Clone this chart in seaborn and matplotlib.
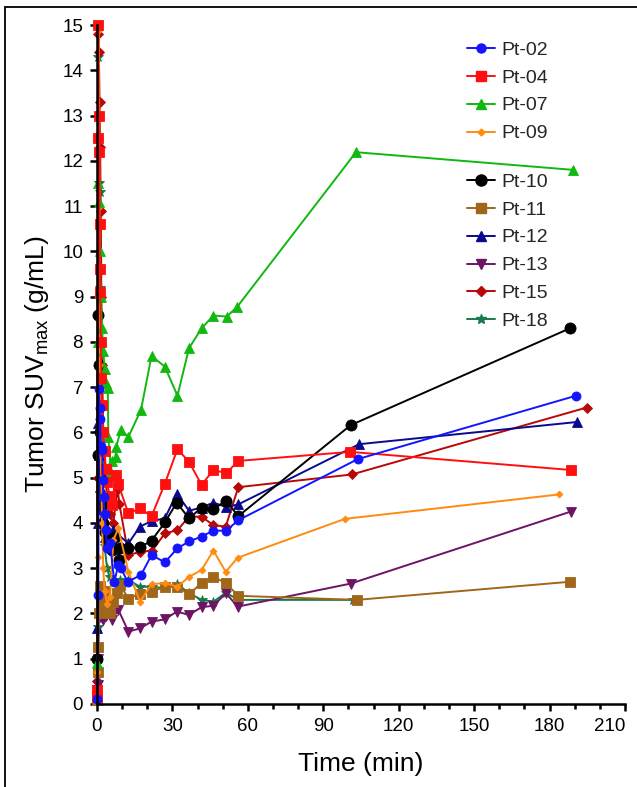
import matplotlib
matplotlib.use("Agg")
import matplotlib.pyplot as plt
from matplotlib.lines import Line2D
from matplotlib.patches import Rectangle
from matplotlib.ticker import MultipleLocator
import seaborn as sns
import pandas as pd

# tumor SUVmax per patient (time in min)
pt02_t = [0, 0.5, 0.8, 1.0, 1.2, 1.5, 2.1, 2.3, 2.6, 3.0, 3.5, 4.0, 5.2, 6.9, 8.4, 9.5, 12.2, 17.5, 21.7, 27, 32, 36.6, 41.6, 46.3, 51.4, 56.2, 103.7, 190.5]
pt02_y = [0.1, 2.41, 6.95, 6.53, 6.30, 5.71, 5.61, 4.95, 4.58, 4.2, 3.84, 3.45, 3.55, 2.69, 3.07, 3.0, 2.70, 2.85, 3.29, 3.13, 3.44, 3.59, 3.70, 3.83, 3.83, 4.06, 5.41, 6.81]

pt04_t = [0, 0.17, 0.33, 0.5, 0.67, 0.83, 1.0, 1.17, 1.33, 1.5, 1.75, 2.0, 2.5, 3.0, 3.5, 4.0, 5.0, 6.0, 7.5, 8.5, 12.5, 17.1, 21.7, 27, 32, 36.6, 41.6, 46.3, 51.4, 56.2, 100.7, 188.4]
pt04_y = [0.15, 0.3, 12.5, 15.0, 13.0, 12.2, 10.6, 9.6, 9.1, 8.0, 7.2, 6.6, 6.0, 5.6, 5.2, 4.9, 4.6, 4.4, 5.06, 4.85, 4.21, 4.32, 4.15, 4.87, 5.63, 5.35, 4.84, 5.17, 5.10, 5.37, 5.57, 5.17]

pt07_t = [0, 0.25, 0.5, 0.75, 1.0, 1.5, 2.0, 2.5, 3.0, 3.5, 4.3, 4.5, 5.6, 5.8, 7.4, 7.6, 9.5, 12.5, 17.5, 21.7, 27, 32, 36.6, 41.6, 46.3, 51.6, 55.7, 103, 189.3]
pt07_y = [0.9, 8.0, 11.5, 11.1, 10.0, 9.0, 8.3, 7.8, 7.4, 7.1, 6.99, 5.9, 5.1, 5.37, 5.46, 5.68, 6.05, 5.9, 6.5, 7.69, 7.45, 6.81, 7.86, 8.3, 8.58, 8.56, 8.77, 12.19, 11.8]

pt09_t = [0, 0.25, 0.5, 0.75, 1.0, 1.25, 1.5, 2.0, 2.5, 3.0, 4.0, 5.2, 6.5, 8.5, 12.5, 17.1, 21.7, 27, 32, 36.6, 41.6, 46.3, 51.2, 55.9, 98.6, 183.9]
pt09_y = [0.7, 3.24, 9.0, 14.9, 11.0, 7.5, 5.5, 4.0, 3.0, 2.5, 2.22, 2.37, 3.62, 3.88, 2.92, 2.26, 2.65, 2.67, 2.59, 2.81, 2.96, 3.39, 2.92, 3.23, 4.09, 4.63]

pt10_t = [0, 0.25, 0.5, 0.75, 1.0, 1.5, 2.0, 2.5, 3.0, 4.0, 5.0, 6.0, 7.0, 8.8, 9.2, 12.5, 17.1, 21.7, 27, 31.7, 36.6, 41.6, 46.3, 51.2, 56.2, 100.9, 188.1]
pt10_y = [1.0, 5.5, 8.6, 7.5, 6.0, 5.0, 4.4, 4.0, 3.8, 3.6, 3.5, 3.4, 3.7, 3.18, 3.44, 3.45, 3.46, 3.61, 4.01, 4.45, 4.10, 4.34, 4.30, 4.49, 4.15, 6.16, 8.30]

pt11_t = [0, 0.25, 0.5, 0.75, 1.0, 1.5, 2.0, 2.5, 3.0, 4.0, 5.0, 6.5, 7.8, 9.2, 12.5, 17.1, 21.7, 27, 32, 36.6, 41.6, 46.3, 51.2, 56.2, 103.3, 188.1]
pt11_y = [0.09, 0.71, 1.27, 2.0, 2.6, 2.3, 2.0, 2.1, 2.5, 2.3, 2.0, 2.26, 2.45, 2.63, 2.33, 2.43, 2.48, 2.59, 2.58, 2.43, 2.67, 2.81, 2.67, 2.39, 2.30, 2.70]

pt12_t = [0, 0.25, 0.5, 0.75, 1.0, 1.5, 2.0, 3.0, 4.0, 6.2, 12.5, 17.1, 21.7, 27, 31.7, 36.6, 41.6, 46.3, 51.4, 56.2, 104.3, 191]
pt12_y = [1.68, 4.0, 6.2, 5.5, 4.8, 4.3, 4.0, 3.7, 3.6, 3.84, 3.55, 3.92, 4.04, 4.1, 4.65, 4.27, 4.34, 4.45, 4.35, 4.41, 5.74, 6.23]

pt13_t = [0, 0.25, 0.5, 0.75, 1.0, 1.5, 2.0, 2.5, 3.5, 5.8, 8.5, 12.5, 17.1, 21.7, 27, 31.7, 36.6, 41.6, 46.3, 51.3, 55.9, 100.9, 188.4]
pt13_y = [0.3, 0.43, 1.0, 1.9, 2.3, 2.1, 1.9, 1.86, 1.95, 1.86, 2.08, 1.60, 1.67, 1.82, 1.87, 2.04, 1.97, 2.14, 2.17, 2.45, 2.15, 2.66, 4.25]

pt15_t = [0, 0.25, 0.5, 0.75, 1.0, 1.25, 1.5, 1.75, 2.0, 2.5, 3.0, 4.0, 5.0, 6.5, 8.2, 8.9, 12.5, 17.1, 22, 27, 32, 36.6, 41.6, 46.3, 51.2, 56.2, 101.3, 194.8]
pt15_y = [0.5, 5.0, 14.8, 14.4, 13.3, 12.3, 10.9, 9.0, 7.5, 6.0, 5.2, 4.6, 4.2, 4.0, 4.76, 4.42, 3.29, 3.36, 3.39, 3.77, 3.84, 4.14, 4.14, 3.95, 3.92, 4.79, 5.07, 6.55]

pt18_t = [0, 0.25, 0.5, 0.75, 1.0, 1.25, 1.5, 2.0, 2.5, 3.0, 4.0, 5.0, 9.2, 12.5, 17.1, 21.7, 27, 31.7, 36.6, 41.6, 46.3, 51.3, 56.2, 102]
pt18_y = [1.0, 1.7, 14.3, 11.5, 11.3, 9.2, 7.5, 5.5, 4.2, 3.5, 3.0, 2.8, 2.74, 2.74, 2.59, 2.59, 2.56, 2.66, 2.45, 2.30, 2.26, 2.46, 2.30, 2.30]

patients = ["Pt-02", "Pt-04", "Pt-07", "Pt-09", "Pt-10", "Pt-11", "Pt-12", "Pt-13", "Pt-15", "Pt-18"]
times = [pt02_t, pt04_t, pt07_t, pt09_t, pt10_t, pt11_t, pt12_t, pt13_t, pt15_t, pt18_t]
values = [pt02_y, pt04_y, pt07_y, pt09_y, pt10_y, pt11_y, pt12_y, pt13_y, pt15_y, pt18_y]
x_ticks = [0, 30, 60, 90, 120, 150, 180, 210]

colors = ["#1414ff", "#ff1010", "#10b810", "#ff8c10", "#000000",
          "#a0661a", "#0a0a8c", "#6e1464", "#b80808", "#157a4c"]
markers = ["o", "s", "^", "D", "o", "s", "^", "v", "D", "*"]
msizes = [6.5, 7, 6.5, 3.5, 8, 7.5, 7, 7, 5.5, 7]

df = pd.concat([pd.DataFrame({"patient": p, "time": t, "suv": v})
                for p, t, v in zip(patients, times, values)])

sns.set_theme(style="ticks")
plt.rcParams["font.family"] = ["Liberation Sans", "DejaVu Sans"]
plt.rcParams["mathtext.default"] = "regular"

fig = plt.figure(figsize=(6.37, 7.87), dpi=100)
ax = fig.add_axes([97 / 637, 1 - 704 / 787, 528 / 637, 679 / 787])

# draw last patient first so Pt-02 ends up on top
for i in reversed(range(len(patients))):
    sub = df[df["patient"] == patients[i]]
    sns.lineplot(data=sub, x="time", y="suv", ax=ax, sort=False, estimator=None,
                 color=colors[i], marker=markers[i], markersize=msizes[i],
                 markeredgewidth=0.6, markeredgecolor=colors[i],
                 linewidth=1.4, clip_on=False, legend=False)

ax.set_xlim(0, 210)
ax.set_ylim(0, 15)
ax.set_xticks(x_ticks)
ax.xaxis.set_minor_locator(MultipleLocator(10))
ax.yaxis.set_major_locator(MultipleLocator(1))
ax.tick_params(which="major", length=5, width=1.8, labelsize=13.5, color="black", labelcolor="black", pad=5)
ax.tick_params(which="minor", axis="x", length=3.5, width=1.8, color="black")
for s in ["left", "bottom"]:
    ax.spines[s].set_linewidth(1.8)
    ax.spines[s].set_color("black")
sns.despine(ax=ax)

# last x label sits against the right edge
ax.xaxis.get_major_ticks()[-1].label1.set_horizontalalignment("right")

ax.set_xlabel("Time (min)", fontsize=19, color="black", labelpad=12)
ax.set_ylabel(r"Tumor SUV$_{max}$ (g/mL)", fontsize=19, color="black", labelpad=8)

handles = [Line2D([], [], color=c, marker=m, markersize=ms, markeredgecolor=c, linewidth=1.4)
           for c, m, ms in zip(colors, markers, msizes)]
kw = dict(frameon=False, fontsize=14, handlelength=1.45, handletextpad=0.3,
          labelspacing=0.53, borderpad=0, borderaxespad=0, loc="upper left",
          bbox_transform=fig.transFigure)
leg1 = ax.legend(handles[:4], patients[:4], bbox_to_anchor=(467 / 637, 1 - 41 / 787), **kw)
ax.add_artist(leg1)
ax.legend(handles[4:], patients[4:], bbox_to_anchor=(467 / 637, 1 - 173 / 787), **kw)

# outer frame of the panel
fig.patches.append(Rectangle((5 / 637, -0.1), 1.2, 1.1 - 7 / 787, transform=fig.transFigure,
                             fill=False, edgecolor="black", linewidth=1.3))

fig.savefig("out.png", dpi=100)
